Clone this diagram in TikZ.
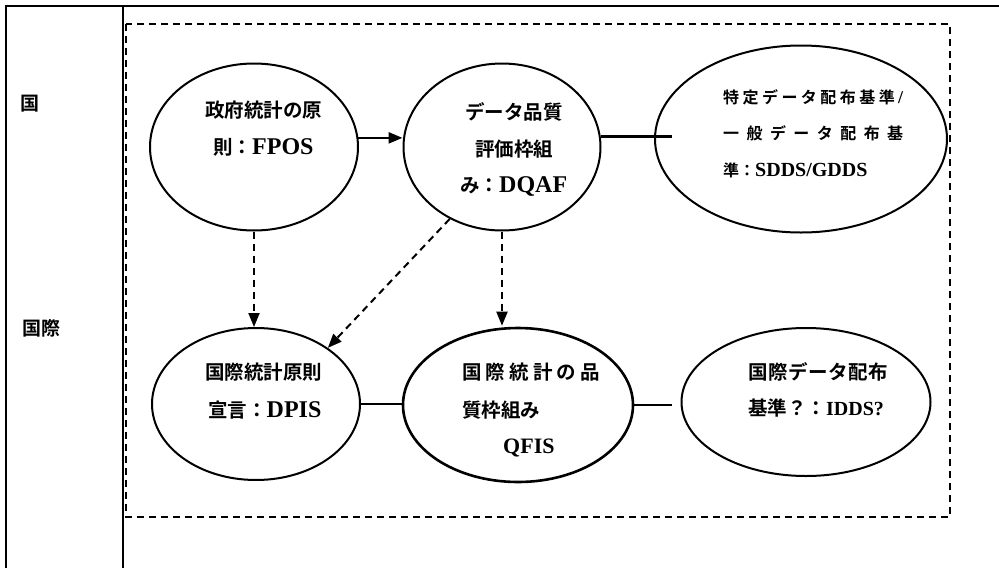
\documentclass[tikz,border=0pt]{standalone}
\usepackage{fontspec}
\usetikzlibrary{shapes.geometric,arrows.meta}
\newfontfamily\cjk{Noto Sans CJK JP}[BoldFont={* Bold}]
\newfontfamily\lat{Liberation Serif}
\newcommand{\LatT}[2]{{\lat\bfseries\fontsize{#1}{#1}\selectfont #2}}
\begin{document}
\begin{tikzpicture}[x=1pt,y=-1pt,
  frame/.style={line width=2pt},
  bubble/.style={draw,ellipse,line width=2pt,inner sep=0pt},
  txt/.style={anchor=west,inner sep=0pt,font=\cjk\bfseries\fontsize{19.5}{19.5}\selectfont},
  lane/.style={anchor=west,inner sep=0pt,font=\cjk\bfseries\fontsize{19}{19}\selectfont},
  link/.style={line width=2.4pt},
  dlink/.style={line width=2pt,dash pattern=on 7pt off 5pt},
  tip/.style={-{Triangle[length=14pt,width=11pt]}}]
\useasboundingbox (0,0) rectangle (999,568);
% frame
\draw[frame] (6,568) -- (6,6) -- (999,6);
\draw[frame] (123,6) -- (123,568);
\draw[line width=1.7pt,dash pattern=on 7pt off 5pt] (126,24) rectangle (950,517);
% lane labels
\node[lane] (l1) at (20,104) {国};
\node[lane] (l2) at (22,328) {国際};
% ellipses
\node[bubble,minimum width=208pt,minimum height=167pt] (fp) at (254,147) {};
\node[bubble,minimum width=197pt,minimum height=167pt] (dq) at (502,147) {};
\node[bubble,minimum width=292pt,minimum height=187pt] (sd) at (801,139) {};
\node[bubble,minimum width=208pt,minimum height=152pt] (dp) at (256,404) {};
\node[bubble,minimum width=230pt,minimum height=154pt,line width=2.6pt] (qf) at (518,405) {};
\node[bubble,minimum width=249pt,minimum height=148pt] (id) at (806,402) {};
% texts
\node[txt] (t1) at (205,110) {政府統計の原};
\node[txt] (t2) at (213,147) {則：\LatT{24}{FPOS}};
\node[txt] (t3) at (465,112) {データ品質};
\node[txt] (t4) at (475,149) {評価枠組};
\node[txt] (t5) at (460,186) {み：\LatT{24}{DQAF}};
\node[txt,font=\cjk\bfseries\fontsize{16}{16}\selectfont] (t6) at (723,97) {\hbox to 180pt{特\hfil 定\hfil デ\hfil ー\hfil タ\hfil 配\hfil 布\hfil 基\hfil 準\hfil \LatT{18}{/}}};
\node[txt,font=\cjk\bfseries\fontsize{16}{16}\selectfont] (t7) at (723,133) {\hbox to 180pt{一\hfil 般\hfil デ\hfil ー\hfil タ\hfil 配\hfil 布\hfil 基}};
\node[txt,font=\cjk\bfseries\fontsize{16}{16}\selectfont] (t8) at (723,170) {準：\LatT{20}{SDDS/GDDS}};
\node[txt] (t9) at (205,372) {国際統計原則};
\node[txt] (t10) at (208,410) {宣言：\LatT{24}{DPIS}};
\node[txt] (t11) at (462,372) {\hbox to 138pt{国\hfil 際\hfil 統\hfil 計\hfil の\hfil 品}};
\node[txt] (t12) at (462,410) {質枠組み};
\node[txt] (t13) at (503,448) {\LatT{22}{QFIS}};
\node[txt] (t14) at (748,372) {\hbox to 140pt{国\hfil 際\hfil デ\hfil ー\hfil タ\hfil 配\hfil 布}};
\node[txt] (t15) at (748,408) {基準？：\LatT{20}{IDDS?}};
% connectors
\draw[link,tip] (fp.5) -- (fp.5 -| dq.west);
\draw[link,shorten >=-18pt] (dq.6) -- (dq.6 -| sd.west);
\draw[dlink,tip] (fp.south) -- (fp.south |- dp.north);
\draw[dlink,tip] (dq.234) -- (dp.38);
\draw[dlink,tip] (dq.south) -- ([yshift=1pt]dq.south |- qf.north);
\draw[link] (dp.east) -- (dp.east -| qf.west);
\draw[link,shorten >=9pt] (qf.east) -- (qf.east -| id.west);
\end{tikzpicture}
\end{document}
